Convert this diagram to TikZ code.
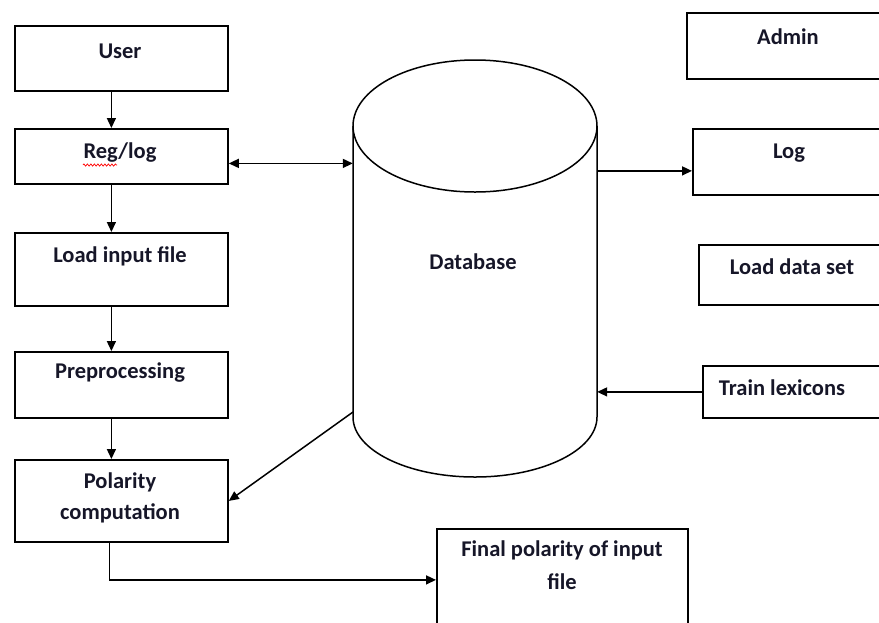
\documentclass[tikz,border=0pt]{standalone}
\usepackage{fontspec}
\setmainfont{Carlito}
\usetikzlibrary{arrows.meta,decorations.pathmorphing}
\definecolor{ink}{RGB}{22,22,40}
\begin{document}
\begin{tikzpicture}[x=1pt,y=-1pt,
  box/.style={draw, line width=1.8pt, inner sep=0pt, anchor=north west},
  lbl/.style={font=\bfseries\fontsize{22.5}{27}\selectfont, text=ink, inner sep=0pt},
  tip/.style={line width=1.5pt, -{Triangle[length=10pt,width=9pt]}},
  tips/.style={line width=1.5pt, {Triangle[length=10pt,width=9pt]}-{Triangle[length=10pt,width=9pt]}},
  squiggle/.style={red, line width=0.7pt, decorate,
    decoration={zigzag, segment length=3.5pt, amplitude=1.1pt}}
]
\useasboundingbox (0,0) rectangle (879,622);

% left column
\node[box, minimum width=213pt, minimum height=65pt] (user) at (14,25) {};
\node[box, minimum width=213pt, minimum height=55pt] (reg)  at (14,128) {};
\node[box, minimum width=213pt, minimum height=73pt] (load) at (14,232) {};
\node[box, minimum width=213pt, minimum height=66pt] (pre)  at (14,351) {};
\node[box, minimum width=213pt, minimum height=82pt] (pol)  at (14,459) {};

% result box
\node[box, minimum width=251pt, minimum height=102pt] (fin) at (436,528) {};

% right column
\node[box, minimum width=210pt, minimum height=66pt] (admin) at (686,12) {};
\node[box, minimum width=210pt, minimum height=66pt] (log)   at (692,128) {};
\node[box, minimum width=210pt, minimum height=60pt] (lds)   at (698,244) {};
\node[box, minimum width=210pt, minimum height=52pt] (train) at (702,365) {};

% database cylinder
\node[minimum width=244pt, minimum height=291pt, inner sep=0pt] (db) at (475,271.5) {};
\draw[line width=1.5pt] (475,126) ellipse [x radius=122pt, y radius=66pt];
\draw[line width=1.5pt] (353,126) -- (353,417)
  arc[start angle=180, end angle=360, x radius=122pt, y radius=60pt] -- (597,126);

% labels
\node[lbl] (tuser)  at (120,51)  {User};
\node[lbl] (treg)   at (120,153) {Reg/log};
\node[lbl] (tload)  at (120,256) {Load input file};
\node[lbl] (tpre)   at (120,373) {Preprocessing};
\node[lbl] (tpol1)  at (120,482) {Polarity};
\node[lbl] (tpol2)  at (120,513) {computation};
\node[lbl] (tfin1)  at (562,550) {Final polarity of input};
\node[lbl] (tfin2)  at (562,582) {file};
\node[lbl] (tadmin) at (788,37)  {Admin};
\node[lbl] (tlog)   at (789,153) {Log};
\node[lbl] (tlds)   at (792,267) {Load data set};
\node[lbl] (ttrain) at (782,388) {Train lexicons};
\node[lbl] (tdb)    at (473,262) {Database};

% spell-check mark under "Reg"
\draw[squiggle] (83,165) -- (117,165);

% flow down the left column
\draw[tip] ([xshift=-10pt]user.south) -- ([xshift=-10pt]reg.north);
\draw[tip] ([xshift=-10pt]reg.south)  -- ([xshift=-10pt]load.north);
\draw[tip] ([xshift=-10pt]load.south) -- ([xshift=-10pt]pre.north);
\draw[tip] ([xshift=-10pt]pre.south)  -- ([xshift=-10pt]pol.north);

% database links
\coordinate (regin) at ([yshift=-7pt]reg.east);
\draw[tips] (regin) -- (regin -| db.west);
\coordinate (login) at ([yshift=-9pt]log.west);
\draw[tip] (login -| db.east) -- (login);
\draw[tip] (train.west) -- (train.west -| db.east);
\coordinate (dbout) at (353,412);
\draw[tip] (dbout) -- (pol.east);

% result
\draw[tip] ([xshift=-12pt]pol.south) |- (fin.west);
\end{tikzpicture}
\end{document}
